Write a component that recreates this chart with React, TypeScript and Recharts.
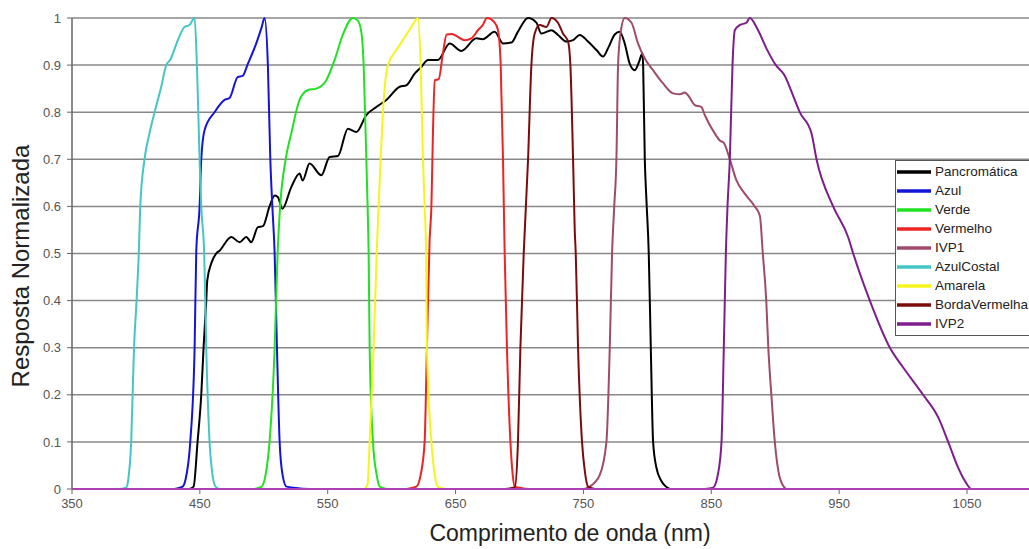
// Resposta espectral normalizada por banda — Recharts

import { LineChart, Line, XAxis, YAxis, CartesianGrid, Legend, Label } from 'recharts'

// ─── Dados: [comprimento de onda (nm), resposta] ─────────────────────────────

const pancromatica: [number, number][] = [
  [441.9, 0], [445.1, 0.005], [448.2, 0.1], [451.1, 0.2], [452.9, 0.3], [455.0, 0.4], [455.8, 0.443],
  [458.9, 0.479], [462.8, 0.5], [465.4, 0.506], [474.6, 0.535], [481.1, 0.524], [486.3, 0.535],
  [490.2, 0.524], [495.4, 0.556], [499.3, 0.558], [504.5, 0.6], [508.5, 0.623], [511.0, 0.62],
  [514.5, 0.595], [521.5, 0.641], [528.0, 0.67], [530.4, 0.655], [535.8, 0.691], [545.0, 0.666],
  [551.5, 0.705], [558.0, 0.707], [565.8, 0.765], [572.4, 0.758], [580.2, 0.794], [588.0, 0.811],
  [595.9, 0.826], [606.3, 0.854], [611.5, 0.857], [618.0, 0.882], [623.2, 0.896], [628.4, 0.911],
  [636.2, 0.911], [645.4, 0.946], [654.5, 0.93], [666.3, 0.957], [671.2, 0.955], [680.6, 0.971],
  [687.1, 0.946], [693.7, 0.948], [698.8, 0.971], [706.7, 1.0], [713.2, 0.99], [717.1, 0.967],
  [725.0, 0.974], [730.1, 0.964], [736.7, 0.95], [741.9, 0.953], [747.1, 0.964], [753.6, 0.95],
  [760.2, 0.932], [765.3, 0.918], [769.3, 0.936], [774.5, 0.965], [778.4, 0.971], [782.3, 0.946],
  [786.2, 0.903], [790.1, 0.889], [793.5, 0.907], [796.2, 0.925], [796.7, 0.9], [798.0, 0.7],
  [799.3, 0.613], [801.1, 0.5], [802.7, 0.3], [804.5, 0.1], [807.1, 0.045], [811.0, 0.017], [817.5, 0],
]

const azul: [number, number][] = [
  [430.2, 0], [436.5, 0.005], [438.8, 0.02], [442.5, 0.1], [445.9, 0.3], [447.2, 0.506], [449.8, 0.6],
  [451.1, 0.7], [453.7, 0.762], [461.5, 0.8], [469.3, 0.826], [473.2, 0.83], [479.7, 0.875],
  [483.4, 0.877], [487.6, 0.903], [494.1, 0.946], [498.3, 0.98], [500.6, 1.0], [503.2, 0.9],
  [505.1, 0.7], [506.7, 0.6], [508.5, 0.5], [510.3, 0.3], [512.4, 0.1], [514.7, 0.03], [517.8, 0.005],
  [535.8, 0],
]

const verde: [number, number][] = [
  [492.8, 0], [498.3, 0.005], [501.4, 0.03], [504.5, 0.1], [508.5, 0.3], [510.8, 0.5], [512.8, 0.6],
  [517.1, 0.7], [521.5, 0.755], [528.0, 0.826], [534.5, 0.847], [541.1, 0.85], [548.9, 0.868],
  [555.4, 0.911], [561.9, 0.965], [569.7, 1.0], [573.4, 0.995], [576.3, 0.97], [578.1, 0.9],
  [580.2, 0.7], [581.2, 0.6], [582.0, 0.5], [582.8, 0.3], [585.4, 0.1], [588.3, 0.03], [590.6, 0.005],
  [596.1, 0],
]

const vermelho: [number, number][] = [
  [611.7, 0], [619.3, 0.005], [622.7, 0.03], [625.8, 0.1], [627.6, 0.3], [629.7, 0.528], [631.1, 0.6],
  [632.3, 0.755], [633.7, 0.868], [636.8, 0.87], [640.1, 0.925], [643.0, 0.965], [647.0, 0.966],
  [649.3, 0.964], [657.1, 0.953], [662.4, 0.957], [667.5, 0.974], [671.2, 0.985], [674.6, 1.0],
  [680.6, 0.99], [683.2, 0.974], [685.3, 0.9], [687.1, 0.7], [688.4, 0.5], [690.2, 0.3], [692.9, 0.1],
  [694.7, 0.03], [696.3, 0.005], [708.0, 0],
]

const ivp1: [number, number][] = [
  [751.0, 0], [754.9, 0.005], [762.8, 0.03], [768.0, 0.1], [770.6, 0.3], [772.4, 0.5], [774.1, 0.6],
  [775.8, 0.7], [777.1, 0.9], [779.0, 0.967], [782.3, 1.0], [787.6, 0.99], [792.7, 0.946],
  [798.0, 0.914], [804.5, 0.889], [812.3, 0.861], [820.1, 0.84], [825.4, 0.838], [829.3, 0.842],
  [831.8, 0.836], [837.1, 0.815], [842.3, 0.811], [844.9, 0.794], [852.7, 0.755], [856.7, 0.74],
  [859.8, 0.735], [864.5, 0.7], [869.7, 0.655], [876.2, 0.627], [884.0, 0.6], [888.0, 0.58],
  [890.3, 0.5], [893.0, 0.4], [894.6, 0.3], [897.0, 0.2], [899.7, 0.1], [903.6, 0.024], [908.3, 0],
]

const azulCostal: [number, number][] = [
  [387.2, 0], [392.4, 0.003], [394.0, 0.02], [396.3, 0.1], [398.5, 0.3], [400.5, 0.4], [402.3, 0.506],
  [403.4, 0.6], [406.7, 0.7], [410.6, 0.755], [414.6, 0.8], [419.8, 0.854], [423.7, 0.9],
  [426.8, 0.911], [432.8, 0.953], [438.0, 0.981], [441.9, 0.985], [445.9, 1.0], [447.7, 0.9],
  [449.8, 0.7], [451.1, 0.6], [453.4, 0.5], [455.0, 0.3], [457.6, 0.1], [459.9, 0.03], [462.3, 0.005],
  [465.4, 0],
]

const amarela: [number, number][] = [
  [578.9, 0], [581.2, 0.01], [582.8, 0.1], [585.9, 0.3], [588.3, 0.5], [589.8, 0.6], [591.4, 0.7],
  [593.2, 0.8], [597.1, 0.9], [603.7, 0.932], [608.8, 0.953], [615.4, 0.981], [620.6, 1.0],
  [622.7, 0.9], [624.5, 0.7], [625.8, 0.6], [627.0, 0.5], [627.6, 0.3], [631.1, 0.1], [633.7, 0.03],
  [636.0, 0.005], [642.3, 0],
]

const bordaVermelha: [number, number][] = [
  [688.4, 0], [696.3, 0.003], [698.8, 0.1], [700.7, 0.3], [703.3, 0.5], [706.7, 0.7], [709.3, 0.9],
  [711.9, 0.967], [715.8, 0.985], [721.1, 0.981], [725.0, 1.0], [730.1, 0.99], [734.0, 0.967],
  [738.0, 0.95], [739.8, 0.9], [741.9, 0.7], [743.2, 0.55], [744.0, 0.5], [745.8, 0.3], [748.9, 0.1],
  [751.0, 0.04], [753.6, 0.005], [758.8, 0],
]

const ivp2: [number, number][] = [
  [844.9, 0], [851.4, 0.003], [855.1, 0.03], [858.0, 0.1], [859.8, 0.3], [861.4, 0.5], [862.7, 0.6],
  [864.5, 0.7], [866.6, 0.9], [868.4, 0.974], [872.3, 0.985], [877.5, 0.99], [880.1, 1.0],
  [886.6, 0.974], [893.2, 0.935], [900.5, 0.9], [906.9, 0.88], [915.3, 0.826], [919.2, 0.8],
  [928.4, 0.755], [932.3, 0.7], [945.3, 0.6], [957.0, 0.535], [961.0, 0.5],
  [974.0, 0.4], [989.7, 0.3], [1000.1, 0.258], [1015.7, 0.2], [1027.5, 0.152], [1035.3, 0.1],
  [1041.9, 0.053], [1048.4, 0.017], [1053.6, 0], [1065.3, 0],
]

const xTicks = [350, 450, 550, 650, 750, 850, 950, 1050]
const yTicks = [0, 0.1, 0.2, 0.3, 0.4, 0.5, 0.6, 0.7, 0.8, 0.9, 1]

// ordem da legenda = ordem de desenho
const SERIES = [
  { name: 'Pancromática',  data: pancromatica,  color: '#000000' },
  { name: 'Azul',          data: azul,          color: '#1414d8' },
  { name: 'Verde',         data: verde,         color: '#22e022' },
  { name: 'Vermelho',      data: vermelho,      color: '#ec2424' },
  { name: 'IVP1',          data: ivp1,          color: '#a04a6c' },
  { name: 'AzulCostal',    data: azulCostal,    color: '#44c6c6' },
  { name: 'Amarela',       data: amarela,       color: '#f6f41c' },
  { name: 'BordaVermelha', data: bordaVermelha, color: '#7c0c0c' },
  { name: 'IVP2',          data: ivp2,          color: '#7e1e8c' },
]

const FONT = '"Liberation Sans", Arial, sans-serif'

const toPoints = (arr: [number, number][]) => arr.map(([x, v]) => ({ x, v }))

function SpectralLegend() {
  return (
    <div style={{ background: '#fff', border: '1px solid #555', padding: '1px 0 2px 1px', width: 220, fontFamily: FONT }}>
      {SERIES.map((s) => (
        <div key={s.name} style={{ display: 'flex', alignItems: 'center', height: 19 }}>
          <svg width={34} height={6} style={{ display: 'block' }}>
            <line x1={0} y1={3} x2={34} y2={3} stroke={s.color} strokeWidth={3.5} />
          </svg>
          <span style={{ marginLeft: 4, fontSize: 13.5, color: '#222', whiteSpace: 'nowrap' }}>{s.name}</span>
        </div>
      ))}
    </div>
  )
}

export default function App() {
  return (
    <div style={{ position: 'absolute', left: 0, top: 0, width: 1029, height: 549, overflow: 'hidden', background: '#fff' }}>
      <LineChart width={1029} height={549} margin={{ top: 18, right: 0, left: 0, bottom: 0 }}>
        <CartesianGrid vertical={false} stroke="#888" strokeWidth={1.5} />
        <XAxis
          type="number"
          dataKey="x"
          domain={[350, 1098.5]}
          ticks={xTicks}
          allowDataOverflow
          height={60}
          tick={{ fill: '#555', fontSize: 13, fontFamily: FONT }}
          tickSize={5}
          tickMargin={5}
          tickLine={{ stroke: '#666' }}
          axisLine={{ stroke: '#b040b4', strokeWidth: 2 }}
        >
          <Label
            content={() => (
              <text x={570} y={541} textAnchor="middle" fontSize={23} fill="#222" fontFamily={FONT}>
                Comprimento de onda (nm)
              </text>
            )}
          />
        </XAxis>
        <YAxis
          type="number"
          domain={[0, 1]}
          ticks={yTicks}
          width={72}
          tick={{ fill: '#555', fontSize: 13, fontFamily: FONT }}
          tickSize={5}
          tickMargin={6}
          tickLine={{ stroke: '#666' }}
          axisLine={{ stroke: '#666', strokeWidth: 1.5 }}
        >
          <Label
            content={() => (
              <text x={29} y={266} transform="rotate(-90 29 266)" textAnchor="middle" fontSize={24} fill="#222" fontFamily={FONT}>
                Resposta Normalizada
              </text>
            )}
          />
        </YAxis>
        <Legend
          layout="vertical"
          align="center"
          verticalAlign="middle"
          content={() => <SpectralLegend />}
          wrapperStyle={{ left: 895, top: 160, width: 220 }}
        />
        {SERIES.map((s) => (
          <Line
            key={s.name}
            data={toPoints(s.data)}
            dataKey="v"
            name={s.name}
            type="monotone"
            stroke={s.color}
            strokeWidth={2}
            dot={false}
            activeDot={false}
            isAnimationActive={false}
          />
        ))}
      </LineChart>
    </div>
  )
}
